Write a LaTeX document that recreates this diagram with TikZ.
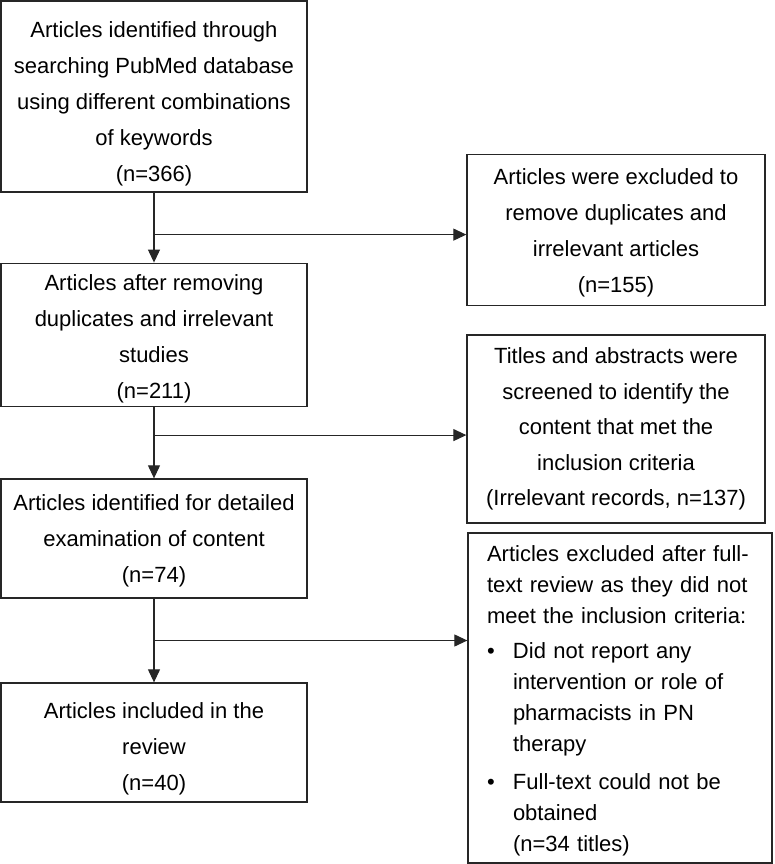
\documentclass[tikz,border=0pt]{standalone}
\usepackage{fontspec}
\setmainfont{Liberation Sans}
\usetikzlibrary{arrows.meta, calc, positioning}

% first-line strut, pushes the text block down inside its box
\newcommand\padtop[1]{\rule{0pt}{#1}}

\tikzset{
  box/.style={draw=black!85, line width=1.3pt, align=center, inner sep=4pt,
    font=\fontsize{22}{36}\selectfont},
  arr/.style={draw=black!85, line width=1.1pt, -{Triangle[length=13pt,width=12pt]}},
}

\begin{document}
\begin{tikzpicture}[x=1pt, y=-1pt]
    \useasboundingbox (0,0) rectangle (774,864);

    % main column
    \node[box, minimum width=306pt, minimum height=191pt] (search) at (154,96.5)
        {\padtop{30pt}Articles identified through\\searching PubMed database\\using different combinations\\of keywords\\(n=366)};
    \node[box, minimum width=306pt, minimum height=140pt] (dedup) at (154,335)
        {\padtop{23pt}Articles after removing\\duplicates and irrelevant\\studies\\(n=211)};
    \node[box, minimum width=306pt, minimum height=119pt] (detail) at (154,538.5)
        {\padtop{20pt}Articles identified for detailed\\examination of content\\(n=74)};
    \node[box, minimum width=306pt, minimum height=119pt] (incl) at (154,742.5)
        {\padtop{28pt}Articles included in the\\review\\(n=40)};

    % exclusions
    \node[box, minimum width=298pt, minimum height=151pt] (excl) at (616,230)
        {\padtop{22pt}Articles were excluded to\\remove duplicates and\\irrelevant articles\\(n=155)};
    \node[box, minimum width=298pt, minimum height=188pt, font=\fontsize{22}{35.5}\selectfont] (screen) at (616,429)
        {Titles and abstracts were\\screened to identify the\\content that met the\\inclusion criteria\\(Irrelevant records, n=137)};
    \node[box, align=left, text width=266pt, inner xsep=19pt, minimum height=330pt,
          font=\fontsize{22}{31}\selectfont] (full) at (620,698)
        {\padtop{22pt}Articles excluded after full-\\text review as they did not\\meet the inclusion criteria:\\[4pt]
         \makebox[26pt][l]{•}Did not report any\\
         \hspace*{26pt}intervention or role of\\
         \hspace*{26pt}pharmacists in PN\\
         \hspace*{26pt}therapy\\[7pt]
         \makebox[26pt][l]{•}Full-text could not be\\
         \hspace*{26pt}obtained\\
         \hspace*{26pt}(n=34 titles)};

    \coordinate (j1) at ($(search.south)!0.6!(dedup.north)$);
    \coordinate (j2) at ($(dedup.south)!0.39!(detail.north)$);
    \coordinate (j3) at ($(detail.south)!0.5!(incl.north)$);

    \draw[arr] (search) -- (dedup);
    \draw[arr] (dedup) -- (detail);
    \draw[arr] (detail) -- (incl);
    \draw[arr] (j1) -- (j1 -| excl.west);
    \draw[arr] (j2) -- (j2 -| screen.west);
    \draw[arr] (j3) -- (j3 -| full.west);
\end{tikzpicture}
\end{document}
